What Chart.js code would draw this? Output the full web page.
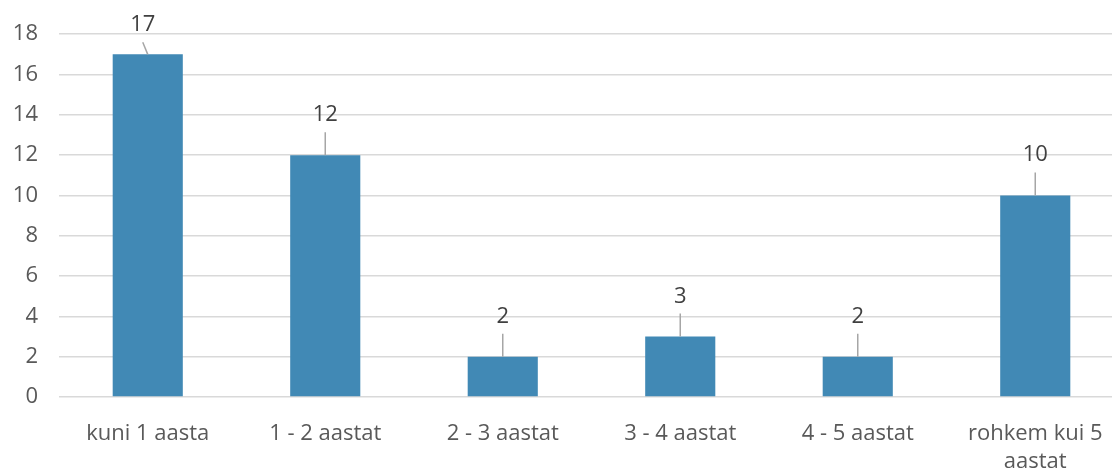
<!DOCTYPE html>
<html><head><meta charset="utf-8">
<script src="https://cdn.jsdelivr.net/npm/chart.js@4/dist/chart.umd.min.js"></script>
<style>html,body{margin:0;padding:0;overflow:hidden;background:#fff;width:1112px;height:471px}canvas{display:block}</style>
</head><body>
<canvas id="c" width="1124" height="471" style="width:1124px;height:471px"></canvas>
<script>
const categories = [["kuni 1 aasta"], ["1 - 2 aastat"], ["2 - 3 aastat"], ["3 - 4 aastat"], ["4 - 5 aastat"], ["rohkem kui 5", "aastat"]];
const values = [17, 12, 2, 3, 2, 10];
const yTicks = [0, 2, 4, 6, 8, 10, 12, 14, 16, 18];

const FONT = "'Open Sans', sans-serif";
const TXT = '#595959';
const FS = 22;

const labelPlugin = {
  id: 'calloutLabels',
  afterDatasetsDraw(chart) {
    const ctx = chart.ctx;
    const meta = chart.getDatasetMeta(0);
    const minCy = chart.chartArea.top - 11;
    ctx.save();
    ctx.font = FS + 'px ' + FONT;
    ctx.textAlign = 'center';
    ctx.textBaseline = 'alphabetic';
    meta.data.forEach((bar, i) => {
      let cy = bar.y - 42;
      let lx = bar.x;
      if (cy < minCy) { cy = minCy; lx = bar.x - 5; }
      ctx.strokeStyle = '#a6a6a6';
      ctx.lineWidth = 1.5;
      ctx.beginPath();
      ctx.moveTo(lx, cy + 19);
      ctx.lineTo(bar.x, bar.y);
      ctx.stroke();
      ctx.fillStyle = '#404040';
      ctx.fillText(String(values[i]), lx, cy + 8);
    });
    ctx.restore();
  }
};

new Chart(document.getElementById('c'), {
  type: 'bar',
  data: {
    labels: categories,
    datasets: [{
      data: values,
      backgroundColor: '#4189b5',
      borderWidth: 0,
      categoryPercentage: 1,
      barPercentage: 0.395
    }]
  },
  options: {
    responsive: false,
    animation: false,
    layout: { padding: { top: 30, left: 0, right: 0, bottom: 0 } },
    plugins: { legend: { display: false }, tooltip: { enabled: false } },
    scales: {
      x: {
        grid: { display: false },
        border: { display: false },
        afterFit(axis) { axis.height = 74; },
        ticks: { color: TXT, font: { family: FONT, size: FS, lineHeight: 1.27 }, padding: 15, maxRotation: 0, autoSkip: false }
      },
      y: {
        min: 0, max: 18,
        afterBuildTicks(axis) { axis.ticks = yTicks.map(v => ({ value: v })); },
        afterFit(axis) { axis.width = 59; },
        grid: { color: '#d9d9d9', lineWidth: 1.5, drawTicks: false },
        border: { display: false },
        ticks: { color: TXT, font: { family: FONT, size: FS }, padding: 21 }
      }
    }
  },
  plugins: [labelPlugin]
});
</script>
</body></html>
